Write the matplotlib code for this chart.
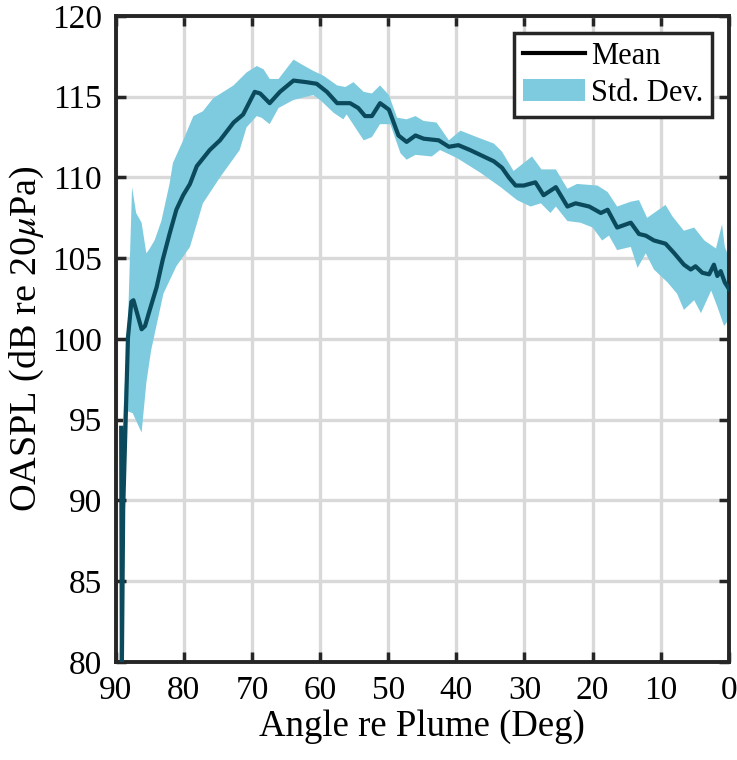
import matplotlib

matplotlib.use("Agg")
import matplotlib.pyplot as plt
import numpy as np

# mean OASPL vs angle
mean_ang = [89.2, 89.1, 88.9, 88.2, 87.7, 87.4, 86.2, 85.7, 85.0, 84.0, 83.1, 82.1,
            81.1, 80.1, 79.1, 78.1, 76.2, 74.7, 72.7, 71.3, 69.6, 68.8, 67.4, 65.9,
            63.9, 62.0, 60.5, 59.0, 57.5, 55.6, 54.4, 53.4, 52.4, 51.2, 49.9, 48.5,
            47.3, 46.0, 44.8, 42.6, 41.1, 39.7, 38.0, 36.0, 34.5, 33.3, 32.3, 31.3,
            30.1, 28.4, 27.2, 25.4, 23.7, 22.5, 20.5, 18.8, 17.8, 16.4, 14.4, 13.2,
            12.2, 11.0, 9.3, 8.0, 6.6, 5.6, 4.9, 3.9, 2.9, 2.2, 1.7, 1.2, 0.6, 0.0]
mean_db = [94.5, 79.5, 89.5, 100.1, 102.3, 102.4, 100.6, 100.8, 101.8, 103.2, 104.9, 106.5,
           108.0, 108.9, 109.6, 110.7, 111.7, 112.3, 113.4, 113.9, 115.3, 115.2, 114.6, 115.3,
           116.0, 115.9, 115.8, 115.3, 114.6, 114.6, 114.3, 113.8, 113.8, 114.6, 114.2, 112.6,
           112.2, 112.6, 112.4, 112.3, 111.9, 112.0, 111.7, 111.3, 111.0, 110.6, 110.0, 109.5,
           109.5, 109.7, 108.9, 109.4, 108.2, 108.4, 108.2, 107.8, 108.0, 106.9, 107.2, 106.5,
           106.4, 106.1, 105.9, 105.3, 104.6, 104.3, 104.5, 104.1, 104.0, 104.6, 103.9, 104.2,
           103.5, 103.1]

# upper edge of the std. dev. band
up_ang = [89.2, 88.9, 88.2, 87.6, 87.0, 86.2, 85.5, 85.0, 84.3, 83.3, 82.1, 81.6,
          80.1, 78.6, 77.2, 75.7, 74.2, 72.7, 70.8, 69.3, 68.3, 67.4, 66.1, 63.9,
          62.7, 61.0, 59.5, 57.5, 56.3, 55.1, 53.6, 52.4, 51.2, 49.9, 48.7, 47.3,
          46.0, 44.8, 42.9, 41.1, 39.4, 37.0, 34.5, 33.3, 31.6, 28.9, 27.5, 25.4,
          23.7, 22.3, 19.3, 17.8, 16.4, 14.4, 13.2, 12.0, 9.3, 8.3, 6.6, 5.1,
          3.6, 1.9, 1.0, 0.6, 0.0]
up_db = [88.0, 95.2, 101.0, 109.4, 107.8, 107.2, 105.3, 105.6, 106.1, 107.3, 109.6, 110.9,
         112.3, 113.8, 114.1, 114.9, 115.3, 115.7, 116.5, 116.9, 116.7, 116.1, 116.1, 117.3,
         117.0, 116.6, 116.3, 115.7, 115.6, 115.9, 115.3, 115.2, 115.7, 115.1, 113.7, 113.6,
         113.8, 113.5, 113.4, 112.3, 112.9, 112.5, 112.1, 111.6, 110.4, 111.3, 110.5, 110.5,
         109.3, 109.6, 109.5, 109.1, 108.2, 108.5, 108.6, 107.5, 108.3, 107.6, 106.7, 106.9,
         106.1, 105.6, 107.1, 105.7, 105.1]

# lower edge of the std. dev. band
lo_ang = [89.2, 88.9, 88.7, 87.5, 86.2, 85.5, 84.8, 83.0, 81.1, 79.1, 77.2, 74.7,
          71.8, 70.8, 69.3, 68.6, 67.4, 66.1, 63.9, 62.0, 61.0, 60.0, 58.0, 56.6,
          56.1, 53.6, 52.4, 51.2, 49.7, 48.2, 47.3, 46.0, 43.6, 42.4, 39.9, 36.5,
          33.5, 31.1, 29.1, 27.6, 26.2, 25.4, 23.7, 21.8, 20.0, 18.6, 17.6, 16.4,
          14.4, 13.4, 12.2, 11.0, 9.0, 7.6, 6.6, 5.1, 4.1, 2.6, 1.7, 0.7, 0.0]
lo_db = [80.0, 80.0, 95.6, 95.4, 94.2, 97.3, 99.3, 102.8, 104.5, 105.7, 108.4, 110.0,
         111.7, 113.1, 113.8, 113.7, 113.3, 114.3, 114.8, 115.0, 115.1, 114.8, 114.0, 113.6,
         113.9, 112.3, 112.5, 113.3, 113.3, 111.5, 111.1, 111.4, 111.3, 111.7, 111.2, 110.3,
         109.4, 108.6, 108.2, 108.4, 107.8, 108.2, 107.3, 107.2, 106.9, 106.1, 106.4, 105.5,
         105.7, 104.4, 105.3, 104.3, 103.5, 102.8, 101.8, 102.4, 101.6, 103.0, 102.0, 100.8,
         101.2]

x_ticks = [90, 80, 70, 60, 50, 40, 30, 20, 10, 0]
y_ticks = [80, 85, 90, 95, 100, 105, 110, 115, 120]

plt.rcParams["font.family"] = ["Liberation Serif", "DejaVu Serif"]
plt.rcParams["mathtext.fontset"] = "stix"

fig = plt.figure(figsize=(7.37, 7.6), dpi=100)
ax = fig.add_axes([0.157, 0.129, 0.832, 0.850])

band_x = np.r_[up_ang, lo_ang[::-1]]
band_y = np.r_[up_db, lo_db[::-1]]
ax.fill(band_x, band_y, color="#7ecbdf", lw=0, label="Std. Dev.", zorder=2)
ax.plot(mean_ang, mean_db, color="#0a4a5c", lw=3, zorder=3)
# legend proxy for the mean line is drawn in black
ax.plot([], [], color="black", lw=3, label="Mean")

ax.set_xlim(90, 0)
ax.set_ylim(80, 120)
ax.set_xticks(x_ticks)
ax.set_yticks(y_ticks)
ax.grid(True, color="#d9d9d9", lw=2.4, zorder=0)
ax.set_axisbelow(True)
ax.tick_params(direction="in", length=7, width=2.5, top=True, right=True,
               labelsize=24, pad=10, colors="#262626", labelcolor="black")
for s in ax.spines.values():
    s.set_linewidth(2.8)
    s.set_color("#262626")

ax.set_xlabel("Angle re Plume (Deg)", fontsize=26.5, labelpad=2)
ax.set_ylabel(r"OASPL (dB re 20$\mu$Pa)", fontsize=27.5, labelpad=4)

h, l = ax.get_legend_handles_labels()
order = [l.index("Mean"), l.index("Std. Dev.")]
leg = ax.legend([h[i] for i in order], [l[i] for i in order], loc="upper right",
                fontsize=22, fancybox=False, framealpha=1, edgecolor="#262626",
                borderpad=0.3, handlelength=2.0, handletextpad=0.2,
                labelspacing=0.25, borderaxespad=0.55)
leg.get_frame().set_linewidth(2.5)

fig.savefig("out.png", dpi=100)
